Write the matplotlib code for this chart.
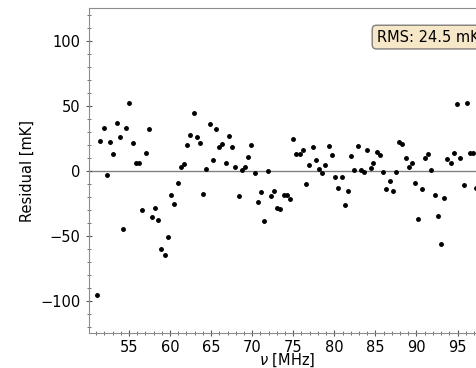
import numpy as np
import matplotlib.pyplot as plt
from matplotlib.ticker import MultipleLocator

# frequencies [MHz] and fit residuals [mK]
freq = [51.11, 51.51, 51.91, 52.33, 52.73, 53.09, 53.49, 53.86, 54.27, 54.67,
        55.04, 55.44, 55.85, 56.25, 56.62, 57.02, 57.38, 57.79, 58.20, 58.56,
        58.96, 59.37, 59.74, 60.14, 60.54, 60.91, 61.32, 61.72, 62.08, 62.48,
        62.90, 63.26, 63.66, 64.06, 64.43, 64.84, 65.21, 65.61, 66.01, 66.37,
        66.79, 67.19, 67.55, 67.95, 68.37, 68.73, 69.13, 69.53, 69.90, 70.31,
        70.71, 71.08, 71.48, 71.89, 72.25, 72.66, 73.02, 73.42, 73.83, 74.20,
        74.60, 75.00, 75.36, 75.78, 76.18, 76.54, 76.94, 77.36, 77.72, 78.12,
        78.49, 78.89, 79.30, 79.70, 80.07, 80.47, 80.88, 81.28, 81.65, 82.05,
        82.41, 82.83, 83.23, 83.59, 83.99, 84.41, 84.77, 85.17, 85.54, 85.94,
        86.35, 86.75, 87.11, 87.52, 87.93, 88.29, 88.69, 89.06, 89.46, 89.87,
        90.24, 90.64, 91.04, 91.40, 91.82, 92.22, 92.58, 92.99, 93.40, 93.76,
        94.16, 94.56, 94.93, 95.34, 95.74, 96.10, 96.51, 96.92, 97.28]
resid = [-95.8, 22.7, 32.7, -2.8, 22.0, 13.0, 37.1, 25.8, -44.8, 32.7,
         51.9, 21.2, 6.4, 6.1, -29.7, 13.5, 32.2, -35.3, -28.4, -37.4,
         -60.4, -64.8, -51.2, -18.4, -25.3, -9.5, 3.1, 5.1, 20.0, 27.9,
         44.2, 25.8, 21.2, -18.0, 1.5, 36.3, 8.1, 32.0, 18.4, 21.0,
         6.1, 26.6, 18.7, 3.1, -19.0, 0.8, 3.3, 10.8, 20.0, -1.5,
         -23.8, -16.4, -38.2, 0.2, -19.0, -15.7, -28.4, -29.2, -18.2, -18.7,
         -21.5, 24.6, 12.8, 13.3, 16.4, -10.0, 4.3, 18.1, 8.4, 1.2,
         -1.5, 4.3, 19.4, 12.0, -4.4, -13.1, -4.9, -25.9, -15.1, 11.5,
         1.0, 18.9, 1.0, -0.5, 16.4, 2.3, 6.4, 14.6, 12.5, -1.1,
         -13.8, -7.7, -15.7, -0.5, 22.0, 20.4, 10.0, 2.8, 6.1, -9.2,
         -36.9, -13.8, 10.2, 12.8, 0.8, -18.4, -34.9, -56.4, -21.0, 9.4,
         6.4, 14.1, 51.5, 9.7, -10.8, 51.9, 14.1, 13.5, -13.4]
rms_label = 'RMS: 24.5 mK'

plt.rcParams['font.size'] = 10.5

fig = plt.figure(figsize=(4.77, 3.68), dpi=100)
# axes runs past the right edge of the figure, as in the original
ax = fig.add_axes([0.186, 0.094, 0.83, 0.883])

ax.axhline(0, color='grey', lw=1, zorder=1)
ax.plot(freq, resid, 'k.', ms=5, zorder=2)

ax.set_xlim(50.1, 98.3)
ax.set_ylim(-125, 125)
ax.xaxis.set_major_locator(MultipleLocator(5))
ax.xaxis.set_minor_locator(MultipleLocator(1))
ax.yaxis.set_major_locator(MultipleLocator(50))
ax.yaxis.set_minor_locator(MultipleLocator(10))
ax.tick_params(which='major', direction='inout', length=5, color='0.35')
ax.tick_params(which='minor', direction='inout', length=3.5, color='0.35')
ax.tick_params(axis='x', which='major', pad=2)
ax.tick_params(top=False, right=False, which='both')
for sp in ax.spines.values():
    sp.set_color('0.55')

ax.set_xlabel(r'$\nu$ [MHz]', labelpad=-2)
ax.set_ylabel('Residual [mK]')

ax.text(0.727, 0.935, rms_label, transform=ax.transAxes, ha='left', va='top',
        bbox=dict(boxstyle='round', facecolor='wheat', alpha=0.7, edgecolor='0.3'))

fig.savefig('out.png', dpi=100)
